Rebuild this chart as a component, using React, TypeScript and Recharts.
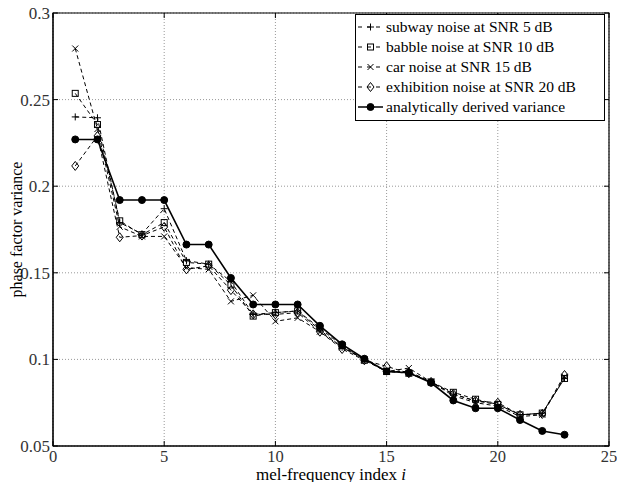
import { CartesianGrid, Line, LineChart, ReferenceArea, XAxis, YAxis } from "recharts";

const melIndex = [1, 2, 3, 4, 5, 6, 7, 8, 9, 10, 11, 12, 13, 14, 15, 16, 17, 18, 19, 20, 21, 22, 23];

const subway = [0.24, 0.2395, 0.179, 0.1725, 0.187, 0.157, 0.155, 0.145, 0.126, 0.127, 0.128, 0.117, 0.107, 0.1, 0.093, 0.093, 0.087, 0.08, 0.076, 0.074, 0.068, 0.069, 0.089];
const babble = [0.2536, 0.2356, 0.18, 0.172, 0.179, 0.156, 0.155, 0.143, 0.125, 0.127, 0.128, 0.118, 0.108, 0.0995, 0.093, 0.092, 0.087, 0.081, 0.077, 0.074, 0.068, 0.069, 0.089];
const car = [0.2795, 0.233, 0.1766, 0.171, 0.171, 0.153, 0.152, 0.1335, 0.137, 0.122, 0.124, 0.116, 0.107, 0.1, 0.093, 0.095, 0.087, 0.079, 0.075, 0.073, 0.067, 0.068, 0.09];
const exhibition = [0.2117, 0.229, 0.1705, 0.1715, 0.1765, 0.152, 0.154, 0.14, 0.126, 0.126, 0.127, 0.116, 0.106, 0.0995, 0.096, 0.092, 0.087, 0.08, 0.076, 0.075, 0.068, 0.0685, 0.091];
const analytic = [0.227, 0.227, 0.192, 0.192, 0.192, 0.1663, 0.1663, 0.147, 0.1317, 0.1317, 0.1317, 0.1194, 0.1087, 0.1004, 0.0931, 0.0923, 0.0865, 0.0763, 0.0718, 0.0718, 0.065, 0.0587, 0.0565];

const xTicks = [0, 5, 10, 15, 20, 25];
const yTicks = [0.05, 0.1, 0.15, 0.2, 0.25, 0.3];

const data = melIndex.map((i, k) => ({
  i,
  subway: subway[k],
  babble: babble[k],
  car: car[k],
  exhibition: exhibition[k],
  analytic: analytic[k],
}));

const font = "'Liberation Serif', 'Times New Roman', serif";

// plot box edges (chart 617x482 with the margins/axis sizes below)
const PLOT_TOP = 13;
const PLOT_BOTTOM = 446;
const PLOT_LEFT = 53;
const PLOT_RIGHT = 609;

type Marker = "plus" | "square" | "cross" | "diamond" | "circle";

function drawMarker(kind: Marker, cx: number, cy: number, key?: string | number) {
  const s = 3.5;
  if (kind === "plus")
    return <path key={key} d={`M${cx - s},${cy}H${cx + s}M${cx},${cy - s}V${cy + s}`} stroke="#000" strokeWidth={1} fill="none" />;
  if (kind === "cross")
    return <path key={key} d={`M${cx - 3},${cy - 3}L${cx + 3},${cy + 3}M${cx - 3},${cy + 3}L${cx + 3},${cy - 3}`} stroke="#000" strokeWidth={1} fill="none" />;
  if (kind === "square") return <rect key={key} x={cx - 3} y={cy - 3} width={6} height={6} stroke="#000" strokeWidth={1} fill="none" />;
  if (kind === "diamond")
    return <path key={key} d={`M${cx},${cy - 4.5}L${cx + 3.5},${cy}L${cx},${cy + 4.5}L${cx - 3.5},${cy}Z`} stroke="#000" strokeWidth={1} fill="none" />;
  return <circle key={key} cx={cx} cy={cy} r={3.5} fill="#000" stroke="#000" />;
}

const dotFor = (kind: Marker) => (p: any) => drawMarker(kind, p.cx, p.cy, `${kind}-${p.index}`);

const legendRows: { label: string; kind: Marker; solid?: boolean }[] = [
  { label: "subway noise at SNR 5 dB", kind: "plus" },
  { label: "babble noise at SNR 10 dB", kind: "square" },
  { label: "car noise at SNR 15 dB", kind: "cross" },
  { label: "exhibition noise at SNR 20 dB", kind: "diamond" },
  { label: "analytically derived variance", kind: "circle", solid: true },
];

function LegendBox() {
  return (
    <div
      style={{
        position: "absolute",
        top: 14,
        left: 355,
        border: "1px solid #000",
        background: "#fff",
        width: 250,
        padding: "2px 0 3px 0",
        fontFamily: font,
        fontSize: 15.5,
        boxSizing: "border-box",
      }}
    >
      {legendRows.map((r) => (
        <div key={r.label} style={{ display: "flex", alignItems: "center", height: 20 }}>
          <svg width={30} height={20} style={{ flex: "none" }}>
            <line x1={2} x2={27} y1={10} y2={10} stroke="#000" strokeWidth={r.solid ? 1.5 : 1} strokeDasharray={r.solid ? undefined : "4 5"} />
            {drawMarker(r.kind, 14.5, 10)}
          </svg>
          <span style={{ whiteSpace: "nowrap", lineHeight: "20px" }}>{r.label}</span>
        </div>
      ))}
    </div>
  );
}

// x tick: label under the axis, short inward tick marks on bottom and top edges
const XTick = (props: any) => {
  const { x, payload } = props;
  return (
    <g>
      <line x1={x} x2={x} y1={PLOT_BOTTOM} y2={PLOT_BOTTOM - 5} stroke="#000" />
      <line x1={x} x2={x} y1={PLOT_TOP} y2={PLOT_TOP + 5} stroke="#000" />
      <text x={x} y={PLOT_BOTTOM + 15.5} textAnchor="middle" fontFamily={font} fontSize={16.5} fill="#333">
        {payload.value}
      </text>
    </g>
  );
};

const YTick = (props: any) => {
  const { y, payload } = props;
  return (
    <g>
      <line x1={PLOT_LEFT} x2={PLOT_LEFT + 5} y1={y} y2={y} stroke="#000" />
      <line x1={PLOT_RIGHT} x2={PLOT_RIGHT - 5} y1={y} y2={y} stroke="#000" />
      <text x={PLOT_LEFT - 3} y={y} dy="0.35em" textAnchor="end" fontFamily={font} fontSize={17} fill="#333">
        {String(Number(payload.value.toFixed(2)))}
      </text>
    </g>
  );
};

const XLabel = () => (
  <text x={(PLOT_LEFT + PLOT_RIGHT) / 2} y={PLOT_BOTTOM + 33.5} textAnchor="middle" fontFamily={font} fontSize={17} fill="#000">
    mel-frequency index <tspan fontStyle="italic">i</tspan>
  </text>
);

export default function App() {
  return (
    <div style={{ position: "absolute", left: 0, top: 0, width: 617, height: 482, background: "#fff" }}>
      <LineChart width={617} height={482} data={data} margin={{ top: PLOT_TOP, right: 617 - PLOT_RIGHT, bottom: 0, left: 0 }}>
        <CartesianGrid stroke="#999" strokeDasharray="1 2" />
        <XAxis
          dataKey="i"
          type="number"
          domain={[0, 25]}
          ticks={xTicks}
          tick={<XTick />}
          tickLine={false}
          axisLine={{ stroke: "#000" }}
          height={482 - PLOT_BOTTOM}
          label={<XLabel />}
        />
        <YAxis
          type="number"
          domain={[0.05, 0.3]}
          ticks={yTicks}
          tick={<YTick />}
          tickLine={false}
          axisLine={{ stroke: "#000" }}
          width={PLOT_LEFT}
          allowDataOverflow
          label={{ value: "phase factor variance", angle: -90, position: "insideLeft", offset: 16, style: { textAnchor: "middle", fontFamily: font, fontSize: 16, fill: "#000" } }}
        />
        <ReferenceArea x1={0} x2={25} y1={0.05} y2={0.3} fill="none" stroke="#000" strokeWidth={1.2} />
        <Line dataKey="subway" stroke="#000" strokeWidth={1} strokeDasharray="4 3" dot={dotFor("plus")} isAnimationActive={false} />
        <Line dataKey="babble" stroke="#000" strokeWidth={1} strokeDasharray="4 3" dot={dotFor("square")} isAnimationActive={false} />
        <Line dataKey="car" stroke="#000" strokeWidth={1} strokeDasharray="4 3" dot={dotFor("cross")} isAnimationActive={false} />
        <Line dataKey="exhibition" stroke="#000" strokeWidth={1} strokeDasharray="4 3" dot={dotFor("diamond")} isAnimationActive={false} />
        <Line dataKey="analytic" stroke="#000" strokeWidth={1.6} dot={dotFor("circle")} isAnimationActive={false} />
      </LineChart>
      <LegendBox />
    </div>
  );
}
